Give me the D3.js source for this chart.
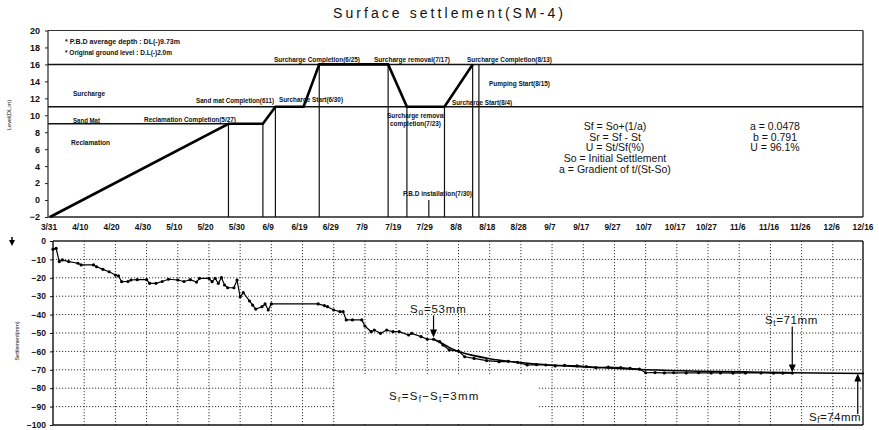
<!DOCTYPE html>
<html><head><meta charset="utf-8">
<script src="https://cdn.jsdelivr.net/npm/d3@7/dist/d3.min.js"></script>
<style>
body{margin:0;background:#fff}
svg{display:block}
text{font-family:"Liberation Sans",Arial,Helvetica,sans-serif;fill:#111}
</style>
</head><body>
<svg id="c" width="879" height="430"></svg>
<script>
// ---------------- data ----------------
const YEAR = 2001;
const tickDates = ["3/31","4/10","4/20","4/30","5/10","5/20","5/30","6/9","6/19","6/29","7/9","7/19","7/29","8/8","8/18","8/28","9/7","9/17","9/27","10/7","10/17","10/27","11/6","11/16","11/26","12/6","12/16"];
const levelTicks = [20,18,16,14,12,10,8,6,4,2,0,-2];
const settleTicks = [0,-10,-20,-30,-40,-50,-60,-70,-80,-90,-100];

// construction stage (fill level, DL m)
const stageDates  = ["3/31","5/27","6/7","6/11","6/20","6/25","7/17","7/23","8/4","8/13"];
const stageLevels = [-2, 9, 9, 11, 11, 16, 16, 11, 11, 16];
// event verticals
const eventDates = ["5/27","6/7","6/11","6/25","7/17","7/23","8/4","8/13","8/15","7/30"];
const eventTops  = [9, 9, 11, 16, 16, 11, 11, 16, 16, 0];
// layer boundaries
const layerLevels = [16, 11];
const sandMatLevel = 9, sandMatEnd = "5/27";

// observed settlement (mm)
const obsDates = ["3/31","4/1","4/2","4/3","4/5","4/8","4/9","4/13","4/14","4/16","4/18","4/20","4/21","4/22","4/24","4/25","4/27","4/30","5/1","5/3","5/5","5/7","5/10","5/12","5/14","5/16","5/17","5/20","5/21","5/22","5/23","5/24","5/25","5/26","5/28","5/29","5/30","5/31","6/2","6/3","6/4","6/6","6/7","6/8","6/9","6/24","6/26","6/27","6/29","7/1","7/2","7/3","7/5","7/8","7/9","7/11","7/12","7/14","7/16","7/18","7/20","7/23","7/24","7/27","7/29","7/31","8/2","8/3","8/5","8/8","8/10","8/13","8/17","8/21","8/24","8/27","8/30","9/2","9/5","9/8","9/11","9/15","9/18","9/21","9/25","9/29","10/2","10/5","10/7","10/10","10/13","10/16","10/20","10/24","10/28","10/31","11/4","11/8","11/13","11/17","11/20","11/23"];
const obsValues = [-4.5,-4,-11.2,-10.3,-11.2,-12.1,-13,-13,-14,-15.4,-16.7,-18.5,-19,-22.1,-22,-21.2,-21,-21,-23,-23,-22,-20.8,-21.2,-22,-21,-22.3,-20.3,-20.3,-22.1,-20.3,-23,-19.9,-23.9,-25.4,-25.4,-21.2,-30.3,-28.1,-32.6,-34.8,-37,-35.7,-34.2,-37.5,-34.2,-34.2,-35.1,-35.7,-37.5,-38.4,-38.4,-42.9,-42.9,-42.9,-46.2,-49.3,-48.4,-50.2,-48.4,-49.3,-49.3,-51.1,-50.2,-52,-53.4,-53.4,-54.7,-56.5,-59.2,-59.8,-62.9,-63.8,-65,-65.6,-65.4,-66,-67.4,-67.2,-67.4,-67.9,-67.6,-67.9,-68.3,-68.8,-68.6,-68.8,-69.2,-69.6,-71.6,-71.5,-71.7,-71.6,-71.7,-71.6,-71.7,-71.7,-71.8,-71.7,-71.7,-71.8,-71.8,-71.8];

// fitted (hyperbolic) curve
const fitDates  = ["7/31","8/2","8/5","8/8","8/13","8/18","8/26","9/3","9/13","9/22","10/7","10/24","11/13","11/23","12/16"];
const fitValues = [-53.4,-55,-57.8,-60.1,-62.3,-64,-65.8,-67,-68,-68.8,-70,-70.8,-71.3,-71.6,-72];

const formulaLines = ["Sf = So+(1/a)","Sr = Sf - St","U = St/Sf(%)","So = Initial Settlement","a = Gradient of t/(St-So)"];
const paramLines = ["a = 0.0478","b = 0.791","U = 96.1%"];

// ---------------- drawing ----------------
const parse = s => { const [m, d] = s.split("/").map(Number); return new Date(YEAR, m - 1, d); };
const svg = d3.select("#c");
const D0 = parse("3/31"), D1 = parse("12/16");

// top chart scales
const xT = d3.scaleTime().domain([D0, D1]).range([50, 864]);
const yT = d3.scaleLinear().domain([-2, 20]).range([217, 30.5]);
const T = {l: 48, r: 863, t: yT(20), b: yT(-2)};

// bottom chart scales
const xB = d3.scaleTime().domain([D0, D1]).range([53, 864]);
const yB = d3.scaleLinear().domain([-100, 0]).range([425, 241]);
const B = {l: 53, r: 863, t: yB(0), b: yB(-100)};

// title
svg.append("text").attr("x", 448).attr("y", 17.5).attr("text-anchor", "middle")
  .attr("font-size", 14).attr("textLength", 230).attr("lengthAdjust", "spacing")
  .text("Surface settlement(SM-4)");

// ---- top chart ----
const gT = svg.append("g");
gT.append("line").attr("x1", T.l).attr("x2", T.r).attr("y1", T.t).attr("y2", T.t).attr("stroke", "#333").attr("stroke-width", 1);
gT.append("line").attr("x1", T.r).attr("x2", T.r).attr("y1", T.t).attr("y2", T.b).attr("stroke", "#222").attr("stroke-width", 1.3);
gT.append("line").attr("x1", T.l).attr("x2", T.r).attr("y1", T.b).attr("y2", T.b).attr("stroke", "#222").attr("stroke-width", 1.3);
gT.append("line").attr("x1", T.l).attr("x2", T.l).attr("y1", T.t).attr("y2", T.b).attr("stroke", "#222").attr("stroke-width", 1.2);
const yAxT = d3.axisLeft(yT).tickValues(levelTicks).tickSize(3).tickPadding(5);
const ga = gT.append("g").attr("transform", `translate(${T.l},0)`).call(yAxT);
ga.select(".domain").remove();
ga.selectAll("text").attr("font-size", 9).attr("font-weight", "bold").attr("fill", "#111").style("font-family", '"Liberation Sans",Arial,sans-serif');
ga.selectAll("line").attr("stroke", "#222");
gT.selectAll(".xl").data(tickDates).enter().append("text")
  .attr("x", d => xT(parse(d)) - 1).attr("y", 230).attr("text-anchor", "middle")
  .attr("font-size", 8.3).attr("font-weight", "bold").text(d => d);

gT.selectAll(".layer").data(layerLevels).enter().append("line")
  .attr("x1", T.l).attr("x2", T.r).attr("y1", d => yT(d)).attr("y2", d => yT(d))
  .attr("stroke", "#111").attr("stroke-width", 1.5);
gT.append("line").attr("x1", T.l).attr("x2", xT(parse(sandMatEnd)))
  .attr("y1", yT(sandMatLevel)).attr("y2", yT(sandMatLevel)).attr("stroke", "#111").attr("stroke-width", 1.4);
gT.selectAll(".ev").data(eventDates).enter().append("line")
  .attr("x1", d => xT(parse(d))).attr("x2", d => xT(parse(d)))
  .attr("y1", T.b).attr("y2", (d, i) => yT(eventTops[i]))
  .attr("stroke", "#111").attr("stroke-width", 1.2);
const stage = stageDates.map((d, i) => [parse(d), stageLevels[i]]);
gT.append("path").datum(stage)
  .attr("d", d3.line().x(d => xT(d[0])).y(d => yT(d[1])))
  .attr("fill", "none").attr("stroke", "#000").attr("stroke-width", 2.6).attr("stroke-linejoin", "miter");

const ann = [
  ["* P.B.D average depth : DL(-)9.73m", 65, 44, 115],
  ["* Original ground level : D.L(-)2.0m", 65, 54.5, 107],
  ["Surcharge", 73, 95.5, 32],
  ["Sand Mat", 73, 122.5, 27],
  ["Reclamation", 71, 144.5, 39],
  ["Reclamation Completion(5/27)", 144, 122, 92],
  ["Sand mat Completion(611)", 196, 103, 78],
  ["Surcharge Start(6/30)", 279, 102, 64],
  ["Surcharge Completion(6/25)", 274, 61.5, 86],
  ["Surcharge removal(7/17)", 374, 61.5, 76],
  ["Surcharge Completion(8/13)", 467, 61.5, 85],
  ["Pumping Start(8/15)", 489, 85.5, 61],
  ["Surcharge Start(8/4)", 452, 104.5, 60],
  ["Surcharge removal", 387, 118, 58],
  ["completion(7/23)", 390, 125.5, 51],
  ["P.B.D installation(7/30)", 403, 196, 69]
];
gT.selectAll(".ann").data(ann).enter().append("text")
  .attr("x", d => d[1]).attr("y", d => d[2]).attr("textLength", d => d[3]).attr("lengthAdjust", "spacingAndGlyphs")
  .attr("font-size", 6.5).attr("font-weight", "bold").text(d => d[0]);

gT.selectAll(".fm").data(formulaLines).enter().append("text")
  .attr("x", 615).attr("y", (d, i) => 130 + i * 10.7).attr("text-anchor", "middle")
  .attr("font-size", 10.5).text(d => d);
gT.selectAll(".pm").data(paramLines).enter().append("text")
  .attr("x", 775).attr("y", (d, i) => 130 + i * 10.7).attr("text-anchor", "middle")
  .attr("font-size", 10.5).text(d => d);

svg.append("text").attr("transform", "translate(11,115) rotate(-90)").attr("text-anchor", "middle")
  .attr("font-size", 5.5).text("Level(DL,m)");

// ---- bottom chart ----
const gB = svg.append("g");
const gridDates = tickDates.slice(1, -1);
gB.selectAll(".vg").data(gridDates).enter().append("line")
  .attr("x1", d => xB(parse(d))).attr("x2", d => xB(parse(d)))
  .attr("y1", B.t).attr("y2", B.b).attr("stroke", "#222").attr("stroke-width", 0.9).attr("stroke-dasharray", "1.2,1.8");
gB.selectAll(".hg").data(settleTicks.slice(1, -1)).enter().append("line")
  .attr("x1", B.l).attr("x2", B.r).attr("y1", d => yB(d)).attr("y2", d => yB(d))
  .attr("stroke", "#222").attr("stroke-width", 0.9).attr("stroke-dasharray", "1.2,1.8");
gB.append("rect").attr("x", 335).attr("y", yB(-72.5)).attr("width", 203).attr("height", B.b - yB(-72.5) - 1).attr("fill", "#fff");

gB.append("line").attr("x1", B.l).attr("x2", B.r).attr("y1", B.t).attr("y2", B.t).attr("stroke", "#222").attr("stroke-width", 1.5);
gB.append("line").attr("x1", B.l).attr("x2", B.r).attr("y1", B.b).attr("y2", B.b).attr("stroke", "#111").attr("stroke-width", 1.6);
gB.append("line").attr("x1", B.l).attr("x2", B.l).attr("y1", B.t).attr("y2", B.b).attr("stroke", "#111").attr("stroke-width", 1.4);
gB.append("line").attr("x1", B.r).attr("x2", B.r).attr("y1", B.t).attr("y2", B.b).attr("stroke", "#111").attr("stroke-width", 1.4);

const yAxB = d3.axisLeft(yB).tickValues(settleTicks).tickSize(3).tickPadding(4);
const gb = gB.append("g").attr("transform", `translate(${B.l},0)`).call(yAxB);
gb.select(".domain").remove();
gb.selectAll("text").attr("font-size", 8.5).attr("font-weight", "bold").attr("fill", "#111").style("font-family", '"Liberation Sans",Arial,sans-serif');
gb.selectAll("line").attr("stroke", "#111");

const fit = fitDates.map((d, i) => [parse(d), fitValues[i]]);
gB.append("path").datum(fit)
  .attr("d", d3.line().curve(d3.curveMonotoneX).x(d => xB(d[0])).y(d => yB(d[1])))
  .attr("fill", "none").attr("stroke", "#000").attr("stroke-width", 1.6);

const obs = obsDates.map((d, i) => [parse(d), obsValues[i]]);
gB.append("path").datum(obs)
  .attr("d", d3.line().x(d => xB(d[0])).y(d => yB(d[1])))
  .attr("fill", "none").attr("stroke", "#000").attr("stroke-width", 1.2);
gB.selectAll(".pt").data(obs).enter().append("circle")
  .attr("cx", d => xB(d[0])).attr("cy", d => yB(d[1])).attr("r", 1.6).attr("fill", "#000");

function arrow(x, y0, y1) {
  const dir = y1 > y0 ? 1 : -1;
  gB.append("line").attr("x1", x).attr("x2", x).attr("y1", y0).attr("y2", y1 - dir * 7)
    .attr("stroke", "#000").attr("stroke-width", 1.2);
  gB.append("path").attr("d", `M${x - 3.5},${y1 - dir * 8}L${x + 3.5},${y1 - dir * 8}L${x},${y1}Z`).attr("fill", "#000");
}
arrow(xB(parse("7/31")), yB(-40.5), yB(-52.5));
arrow(xB(parse("11/23")), yB(-46.5), yB(-71.4));
arrow(xB(parse("12/14")), yB(-94), yB(-72));

function subText(x, y, parts, size, ls) {
  const t = gB.append("text").attr("x", x).attr("y", y).attr("font-size", size).attr("letter-spacing", ls);
  parts.forEach(p => {
    if (p.sub) t.append("tspan").attr("font-size", size * 0.72).attr("dy", 2).text(p.s);
    else t.append("tspan").attr("dy", p.after ? -2 : 0).text(p.s);
  });
  return t;
}
subText(410, 313, [{s: "S"}, {s: "o", sub: true}, {s: "=53mm", after: true}], 11.5, 0.8);
subText(765, 324, [{s: "S"}, {s: "t", sub: true}, {s: "=71mm", after: true}], 11.5, 0.6);
subText(389, 400, [{s: "S"}, {s: "r", sub: true}, {s: "=S", after: true}, {s: "f", sub: true}, {s: "\u2212S", after: true}, {s: "t", sub: true}, {s: "=3mm", after: true}], 11.5, 1.2);
subText(809, 421, [{s: "S"}, {s: "f", sub: true}, {s: "=74mm", after: true}], 11.5, 0.5);

svg.append("path").attr("d", "M12,237L12,241").attr("stroke", "#000").attr("stroke-width", 1.5);
svg.append("path").attr("d", "M9,240L15,240L12,246Z").attr("fill", "#000");
svg.append("text").attr("transform", "translate(19,341) rotate(-90)").attr("text-anchor", "middle")
  .attr("font-size", 5.5).text("Settlement(mm)");
</script>
</body></html>
